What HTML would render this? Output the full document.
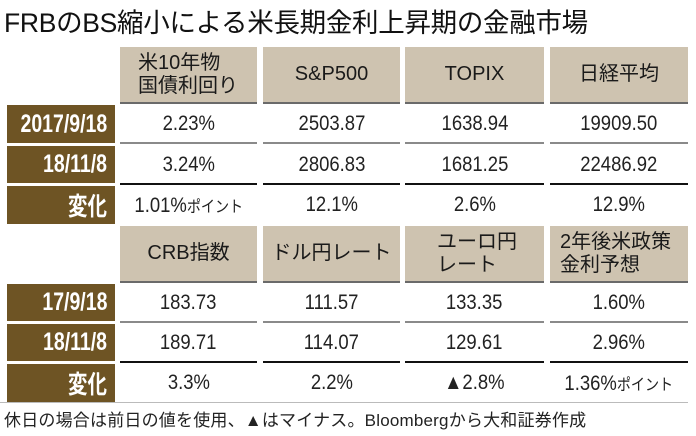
<!DOCTYPE html>
<html><head><meta charset="utf-8"><style>
body{margin:0;width:696px;height:436px;background:#fff;position:relative;overflow:hidden;font-family:"Liberation Sans","Noto Sans CJK JP",sans-serif;color:#1a1a1a}
.a{position:absolute;box-sizing:border-box}
.t{left:4px;top:1px;font-size:26.5px;white-space:nowrap;letter-spacing:-0.3px;color:#111}
.h{background:#cec3b0;border-bottom:2px solid #6a6a6a;display:flex;align-items:center;justify-content:center;font-size:20px;line-height:23px;color:#1a1a1a}
.h.l{justify-content:flex-start;padding-left:18px}
.lb{background:#6e5424;color:#fff;font-weight:bold;font-size:25px;display:flex;align-items:center;justify-content:flex-end;padding-right:8px}
.lb span{display:inline-block;transform:scaleX(.78);transform-origin:right center;white-space:nowrap}
.v{display:flex;align-items:center;justify-content:center;font-size:21px;color:#222}
.v>span{display:inline-block;transform:scaleX(.88);white-space:nowrap}
.g{border-bottom:2px solid #8a8a8a}
.k{border-bottom:2px solid #111}
.s{font-size:16px}
.f{left:4px;top:406px;font-size:17px;white-space:nowrap;color:#222;letter-spacing:0.2px}
</style></head><body>
<div class="a t">FRBのBS縮小による米長期金利上昇期の金融市場</div>

<div class="a h l" style="left:120px;top:47px;width:137px;height:57px">米10年物<br>国債利回り</div>
<div class="a h" style="left:263px;top:47px;width:137px;height:57px">S&amp;P500</div>
<div class="a h" style="left:405px;top:47px;width:139px;height:57px">TOPIX</div>
<div class="a h" style="left:550px;top:47px;width:138px;height:57px">日経平均</div>

<div class="a lb" style="left:7px;top:105px;width:108px;height:38px"><span>2017/9/18</span></div>
<div class="a lb" style="left:7px;top:146px;width:108px;height:37px"><span>18/11/8</span></div>
<div class="a lb" style="left:7px;top:186px;width:108px;height:38px"><span>変化</span></div>

<div class="a v g" style="left:120px;top:105px;width:137px;height:39px"><span>2.23%</span></div>
<div class="a v g" style="left:263px;top:105px;width:137px;height:39px"><span>2503.87</span></div>
<div class="a v g" style="left:405px;top:105px;width:139px;height:39px"><span>1638.94</span></div>
<div class="a v g" style="left:550px;top:105px;width:138px;height:39px"><span>19909.50</span></div>
<div class="a v k" style="left:120px;top:146px;width:137px;height:39px"><span>3.24%</span></div>
<div class="a v k" style="left:263px;top:146px;width:137px;height:39px"><span>2806.83</span></div>
<div class="a v k" style="left:405px;top:146px;width:139px;height:39px"><span>1681.25</span></div>
<div class="a v k" style="left:550px;top:146px;width:138px;height:39px"><span>22486.92</span></div>
<div class="a v" style="left:120px;top:186px;width:137px;height:38px"><span>1.01%<span class="s">ポイント</span></span></div>
<div class="a v" style="left:263px;top:186px;width:137px;height:38px"><span>12.1%</span></div>
<div class="a v" style="left:405px;top:186px;width:139px;height:38px"><span>2.6%</span></div>
<div class="a v" style="left:550px;top:186px;width:138px;height:38px"><span>12.9%</span></div>

<div class="a h" style="left:120px;top:226px;width:137px;height:57px">CRB指数</div>
<div class="a h" style="left:263px;top:226px;width:137px;height:57px">ドル円レート</div>
<div class="a h l" style="left:405px;top:226px;width:139px;height:57px;padding-left:32px">ユーロ円<br>レート</div>
<div class="a h l" style="left:550px;top:226px;width:138px;height:57px;padding-left:10px">2年後米政策<br>金利予想</div>

<div class="a lb" style="left:7px;top:284px;width:108px;height:37px"><span>17/9/18</span></div>
<div class="a lb" style="left:7px;top:324px;width:108px;height:37px"><span>18/11/8</span></div>
<div class="a lb" style="left:7px;top:364px;width:108px;height:38px"><span>変化</span></div>

<div class="a v g" style="left:120px;top:284px;width:137px;height:39px"><span>183.73</span></div>
<div class="a v g" style="left:263px;top:284px;width:137px;height:39px"><span>111.57</span></div>
<div class="a v g" style="left:405px;top:284px;width:139px;height:39px"><span>133.35</span></div>
<div class="a v g" style="left:550px;top:284px;width:138px;height:39px"><span>1.60%</span></div>
<div class="a v k" style="left:120px;top:324px;width:137px;height:39px"><span>189.71</span></div>
<div class="a v k" style="left:263px;top:324px;width:137px;height:39px"><span>114.07</span></div>
<div class="a v k" style="left:405px;top:324px;width:139px;height:39px"><span>129.61</span></div>
<div class="a v k" style="left:550px;top:324px;width:138px;height:39px"><span>2.96%</span></div>
<div class="a v" style="left:120px;top:364px;width:137px;height:38px"><span>3.3%</span></div>
<div class="a v" style="left:263px;top:364px;width:137px;height:38px"><span>2.2%</span></div>
<div class="a v" style="left:405px;top:364px;width:139px;height:38px"><span>▲2.8%</span></div>
<div class="a v" style="left:550px;top:364px;width:138px;height:38px"><span>1.36%<span class="s">ポイント</span></span></div>
<div class="a" style="left:0;top:402px;width:688px;height:1px;background:#bbb"></div>

<div class="a f">休日の場合は前日の値を使用、▲はマイナス。Bloombergから大和証券作成</div>
</body></html>
